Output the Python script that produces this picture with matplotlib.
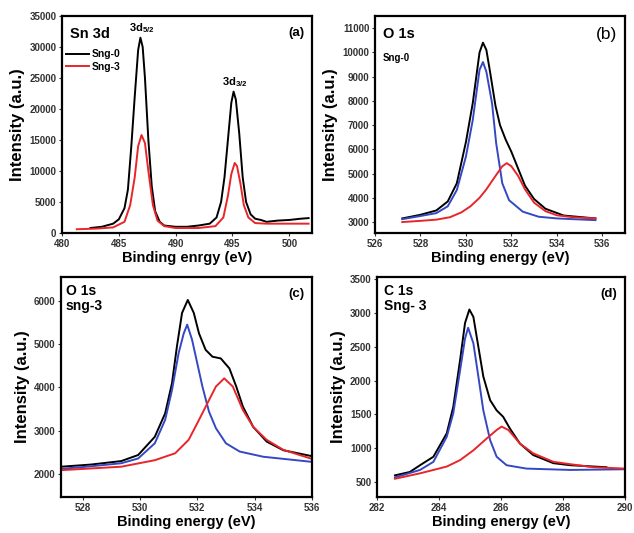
import matplotlib
matplotlib.use("Agg")
import matplotlib.pyplot as plt

plt.rcParams['font.family'] = ['Liberation Sans', 'DejaVu Sans']
plt.rcParams['font.weight'] = 'bold'
plt.rcParams['axes.labelweight'] = 'bold'
plt.rcParams['mathtext.fontset'] = 'custom'
plt.rcParams['mathtext.rm'] = 'Liberation Sans:bold'
plt.rcParams['mathtext.it'] = 'Liberation Sans:bold'
plt.rcParams['mathtext.bf'] = 'Liberation Sans:bold'

RED = '#e8262a'
BLUE = '#3448c4'

# (a) Sn 3d
a_x0 = [482.5, 483.5, 484.5, 485.0, 485.5, 485.8, 486.1, 486.4, 486.7, 486.9, 487.1, 487.3,
        487.6, 487.9, 488.2, 488.6, 489.0, 490.0, 491.0, 492.0, 493.0, 493.6, 494.0, 494.3,
        494.6, 494.9, 495.1, 495.3, 495.6, 495.9, 496.2, 496.6, 497.0, 497.5, 498.0, 499.0,
        500.0, 501.0, 501.7]
a_sng0 = [800, 1000, 1500, 2200, 4000, 7000, 14000, 22000, 29500, 31500, 30000, 25000,
          15000, 7500, 3500, 1800, 1200, 1000, 1000, 1200, 1500, 2500, 5000, 9000,
          15000, 21000, 22800, 21500, 16000, 9000, 5000, 3000, 2300, 2100, 1800, 2000,
          2100, 2300, 2400]
a_x3 = [481.3, 483.0, 484.5, 485.5, 486.0, 486.4, 486.7, 487.0, 487.3, 487.6, 488.0, 488.4,
        489.0, 490.0, 492.0, 493.5, 494.2, 494.6, 494.9, 495.2, 495.4, 495.7, 496.0, 496.4,
        497.0, 498.0, 500.0, 501.7]
a_sng3 = [600, 700, 900, 1800, 4500, 9000, 14000, 15800, 14500, 10000, 4500, 2000,
          1100, 800, 800, 1100, 2500, 6000, 9500, 11300, 10800, 8000, 4500, 2500,
          1600, 1500, 1500, 1500]

# (b) O 1s, Sng-0
b_xk = [527.2, 528.0, 528.7, 529.2, 529.6, 530.0, 530.3, 530.6, 530.75, 530.9, 531.07,
        531.3, 531.5, 531.75, 532.0, 532.3, 532.6, 533.0, 533.5, 534.3, 535.7]
b_total = [3150, 3300, 3480, 3850, 4600, 6300, 7900, 10000, 10400, 10100, 9150,
           7800, 7000, 6400, 5900, 5200, 4500, 3950, 3550, 3270, 3150]
b_xb = [527.2, 528.0, 528.7, 529.2, 529.6, 530.0, 530.3, 530.6, 530.75, 530.9, 531.15,
        531.33, 531.6, 531.9, 532.5, 533.2, 534.0, 534.7, 535.7]
b_blue = [3120, 3250, 3370, 3650, 4320, 5700, 7200, 9280, 9600, 9200, 7900,
          6260, 4600, 3900, 3430, 3220, 3150, 3120, 3080]
b_xr = [527.2, 528.0, 528.7, 529.3, 529.8, 530.2, 530.6, 530.9, 531.3, 531.6, 531.8,
        532.0, 532.3, 532.6, 533.0, 533.5, 534.0, 534.7, 535.7]
b_red = [3000, 3050, 3100, 3200, 3400, 3650, 4000, 4350, 4900, 5300, 5430,
         5300, 4900, 4350, 3800, 3450, 3280, 3200, 3150]

# (c) O 1s, sng-3
c_xk = [527.26, 528.3, 529.35, 529.94, 530.52, 530.88, 531.12, 531.29, 531.47, 531.67, 531.88,
        532.06, 532.29, 532.53, 532.82, 533.12, 533.36, 533.59, 533.95, 534.42, 535.0, 535.95]
c_total = [2170, 2220, 2300, 2440, 2860, 3400, 4100, 4940, 5720, 6020, 5720,
           5250, 4870, 4710, 4670, 4440, 4020, 3560, 3090, 2750, 2550, 2420]
c_xb = [527.26, 528.3, 529.35, 529.94, 530.52, 530.88, 531.12, 531.35, 531.53, 531.65, 531.82,
        532.0, 532.18, 532.41, 532.65, 533.0, 533.48, 534.3, 535.95]
c_blue = [2120, 2180, 2250, 2360, 2710, 3250, 3940, 4790, 5250, 5450, 5100,
          4560, 4020, 3440, 3060, 2710, 2520, 2400, 2285]
c_xr = [527.26, 528.3, 529.35, 530.52, 531.23, 531.7, 532.06, 532.35, 532.65, 532.94, 533.24,
        533.59, 533.95, 534.42, 535.0, 535.95]
c_red = [2090, 2130, 2170, 2320, 2480, 2790, 3250, 3630, 4020, 4210, 4020,
         3480, 3090, 2790, 2560, 2360]

# (d) C 1s, Sng-3
d_xk = [282.58, 283.06, 283.39, 283.82, 284.25, 284.46, 284.68, 284.84, 284.98, 285.11,
        285.27, 285.43, 285.65, 285.86, 286.07, 286.29, 286.61, 287.04, 287.69, 288.23, 289.4]
d_total = [600, 650, 750, 875, 1220, 1610, 2300, 2850, 3050, 2940,
           2500, 2060, 1710, 1560, 1465, 1290, 1070, 900, 780, 750, 720]
d_xb = [282.58, 283.39, 283.82, 284.25, 284.46, 284.68, 284.84, 284.94, 285.11, 285.27,
        285.43, 285.65, 285.86, 286.18, 286.82, 288.23, 290.0]
d_blue = [570, 680, 800, 1170, 1515, 2150, 2620, 2780, 2550, 2060,
          1560, 1120, 875, 750, 700, 680, 690]
d_xr = [282.58, 283.39, 284.25, 284.68, 285.11, 285.54, 285.86, 286.02, 286.24, 286.61,
        287.04, 287.69, 288.23, 288.98, 290.0]
d_red = [550, 630, 730, 825, 970, 1145, 1270, 1320, 1270, 1070,
         925, 800, 765, 720, 700]

fig = plt.figure(figsize=(6.34, 5.33), dpi=100)
ax_a = fig.add_axes([0.0978, 0.5629, 0.3943, 0.4071])
ax_b = fig.add_axes([0.5915, 0.5629, 0.3943, 0.4071])
ax_c = fig.add_axes([0.0962, 0.0675, 0.3959, 0.4128])
ax_d = fig.add_axes([0.5946, 0.0675, 0.3912, 0.4128])

lw = 1.4
ax_a.plot(a_x0, a_sng0, color='black', lw=lw, label='Sng-0')
ax_a.plot(a_x3, a_sng3, color=RED, lw=lw, label='Sng-3')
ax_a.set_xlim(480, 502)
ax_a.set_ylim(0, 35000)
ax_a.set_xticks([480, 485, 490, 495, 500])
ax_a.set_yticks(range(0, 35001, 5000))
ax_a.set_xlabel('Binding enrgy (eV)')
ax_a.legend(loc='upper left', bbox_to_anchor=(-0.02, 0.89), frameon=False, fontsize=7.5,
            handlelength=2.2, handletextpad=0.2, labelspacing=0.25)
ax_a.text(0.03, 0.95, 'Sn 3d', transform=ax_a.transAxes, fontsize=10.5, va='top')
ax_a.text(0.97, 0.95, '(a)', transform=ax_a.transAxes, fontsize=9.5, va='top', ha='right')
ax_a.text(487.0, 32000, r'3d$_{5/2}$', fontsize=8, ha='center', va='bottom')
ax_a.text(495.2, 23300, r'3d$_{3/2}$', fontsize=8, ha='center', va='bottom')

ax_b.plot(b_xk, b_total, color='black', lw=lw)
ax_b.plot(b_xb, b_blue, color=BLUE, lw=lw)
ax_b.plot(b_xr, b_red, color=RED, lw=lw)
ax_b.set_xlim(526, 537)
ax_b.set_ylim(2550, 11500)
ax_b.set_xticks(range(526, 537, 2))
ax_b.set_yticks(range(3000, 11001, 1000))
ax_b.set_xlabel('Binding energy (eV)')
ax_b.text(0.03, 0.95, 'O 1s', transform=ax_b.transAxes, fontsize=10.5, va='top')
ax_b.text(0.03, 0.83, 'Sng-0', transform=ax_b.transAxes, fontsize=7, va='top')
ax_b.text(0.97, 0.95, '(b)', transform=ax_b.transAxes, fontsize=12.5, va='top', ha='right',
          fontweight='normal')

ax_c.plot(c_xk, c_total, color='black', lw=lw)
ax_c.plot(c_xb, c_blue, color=BLUE, lw=lw)
ax_c.plot(c_xr, c_red, color=RED, lw=lw)
ax_c.set_xlim(527.25, 536)
ax_c.set_ylim(1470, 6550)
ax_c.set_xticks(range(528, 537, 2))
ax_c.set_yticks(range(2000, 6001, 1000))
ax_c.set_xlabel('Binding energy (eV)')
ax_c.text(0.02, 0.97, 'O 1s\nsng-3', transform=ax_c.transAxes, fontsize=10, va='top',
          linespacing=1.15)
ax_c.text(0.97, 0.95, '(c)', transform=ax_c.transAxes, fontsize=9.5, va='top', ha='right')

ax_d.plot(d_xk, d_total, color='black', lw=lw)
ax_d.plot(d_xb, d_blue, color=BLUE, lw=lw)
ax_d.plot(d_xr, d_red, color=RED, lw=lw)
ax_d.set_xlim(282, 290)
ax_d.set_ylim(280, 3530)
ax_d.set_xticks(range(282, 291, 2))
ax_d.set_yticks(range(500, 3501, 500))
ax_d.set_xlabel('Binding energy (eV)')
ax_d.text(0.03, 0.97, 'C 1s\nSng- 3', transform=ax_d.transAxes, fontsize=10, va='top',
          linespacing=1.15)
ax_d.text(0.97, 0.95, '(d)', transform=ax_d.transAxes, fontsize=9.5, va='top', ha='right')

for ax in (ax_a, ax_b, ax_c, ax_d):
    ax.set_ylabel('Intensity (a.u.)', fontsize=12, labelpad=3)
    ax.xaxis.label.set_size(10.5)
    ax.xaxis.labelpad = 2
    for s in ax.spines.values():
        s.set_linewidth(1.6)
    ax.tick_params(labelsize=7, colors='#333333', length=2, width=0.8, direction='out', pad=2)

fig.savefig('out.png', dpi=100)
